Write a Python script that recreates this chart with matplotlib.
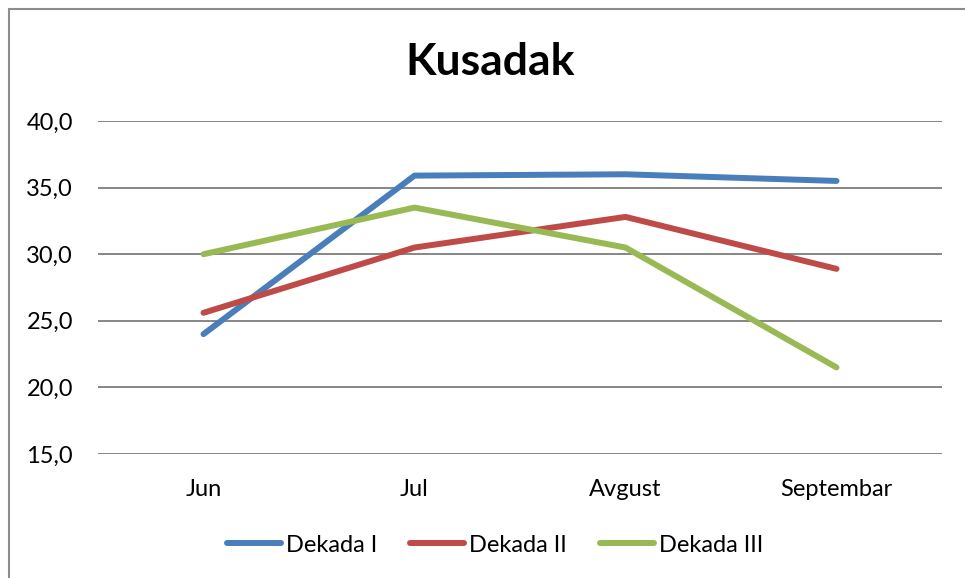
import matplotlib.pyplot as plt
from matplotlib.patches import Rectangle

# ── Data ──────────────────────────────────────────────────────────────────────
months = ["Jun", "Jul", "Avgust", "Septembar"]
dekada_1 = [24.0, 35.9, 36.0, 35.5]
dekada_2 = [25.6, 30.5, 32.8, 28.9]
dekada_3 = [30.0, 33.5, 30.5, 21.5]
y_ticks = [15, 20, 25, 30, 35, 40]

plt.rcParams["font.family"] = ["Lato", "DejaVu Sans"]

fig = plt.figure(figsize=(9.65, 5.78), dpi=100)
ax = fig.add_axes([98 / 965, 1 - 454 / 578, (942 - 98) / 965, (454 - 121) / 578])

# chart frame (only left/top edges visible in the reference)
fig.patches.append(Rectangle((9 / 965, -0.1), 1.2, 1 - 9 / 578 + 0.1,
                             transform=fig.transFigure, fill=False,
                             edgecolor="#8c8c8c", linewidth=1.5))

x = range(len(months))
ax.plot(x, dekada_1, color="#4A7EBB", linewidth=4.3, label="Dekada I", solid_capstyle="round")
ax.plot(x, dekada_2, color="#BE4B48", linewidth=4.3, label="Dekada II", solid_capstyle="round")
ax.plot(x, dekada_3, color="#98B954", linewidth=4.3, label="Dekada III", solid_capstyle="round")

ax.set_xlim(-0.5, len(months) - 0.5)
ax.set_ylim(15, 40)
ax.set_yticks(y_ticks)
ax.set_yticklabels([f"{v:.1f}".replace(".", ",") for v in y_ticks], fontsize=17)
ax.set_xticks(list(x))
ax.set_xticklabels(months, fontsize=17)
ax.tick_params(axis="y", length=0, pad=18)
ax.tick_params(axis="x", length=0, pad=18)

ax.grid(axis="y", color="#868686", linewidth=1.4)
ax.set_axisbelow(True)
for s in ax.spines.values():
    s.set_visible(False)

fig.text(490 / 965, 1 - 62 / 578, "Kusadak", ha="center", va="center",
         fontsize=32, fontweight="bold")

fig.legend(loc="center", bbox_to_anchor=(495 / 965, 1 - 545 / 578), ncol=3,
           frameon=False, fontsize=17, handlelength=2.3, handletextpad=0.2,
           columnspacing=1.4)

plt.savefig("out.png", dpi=100)
